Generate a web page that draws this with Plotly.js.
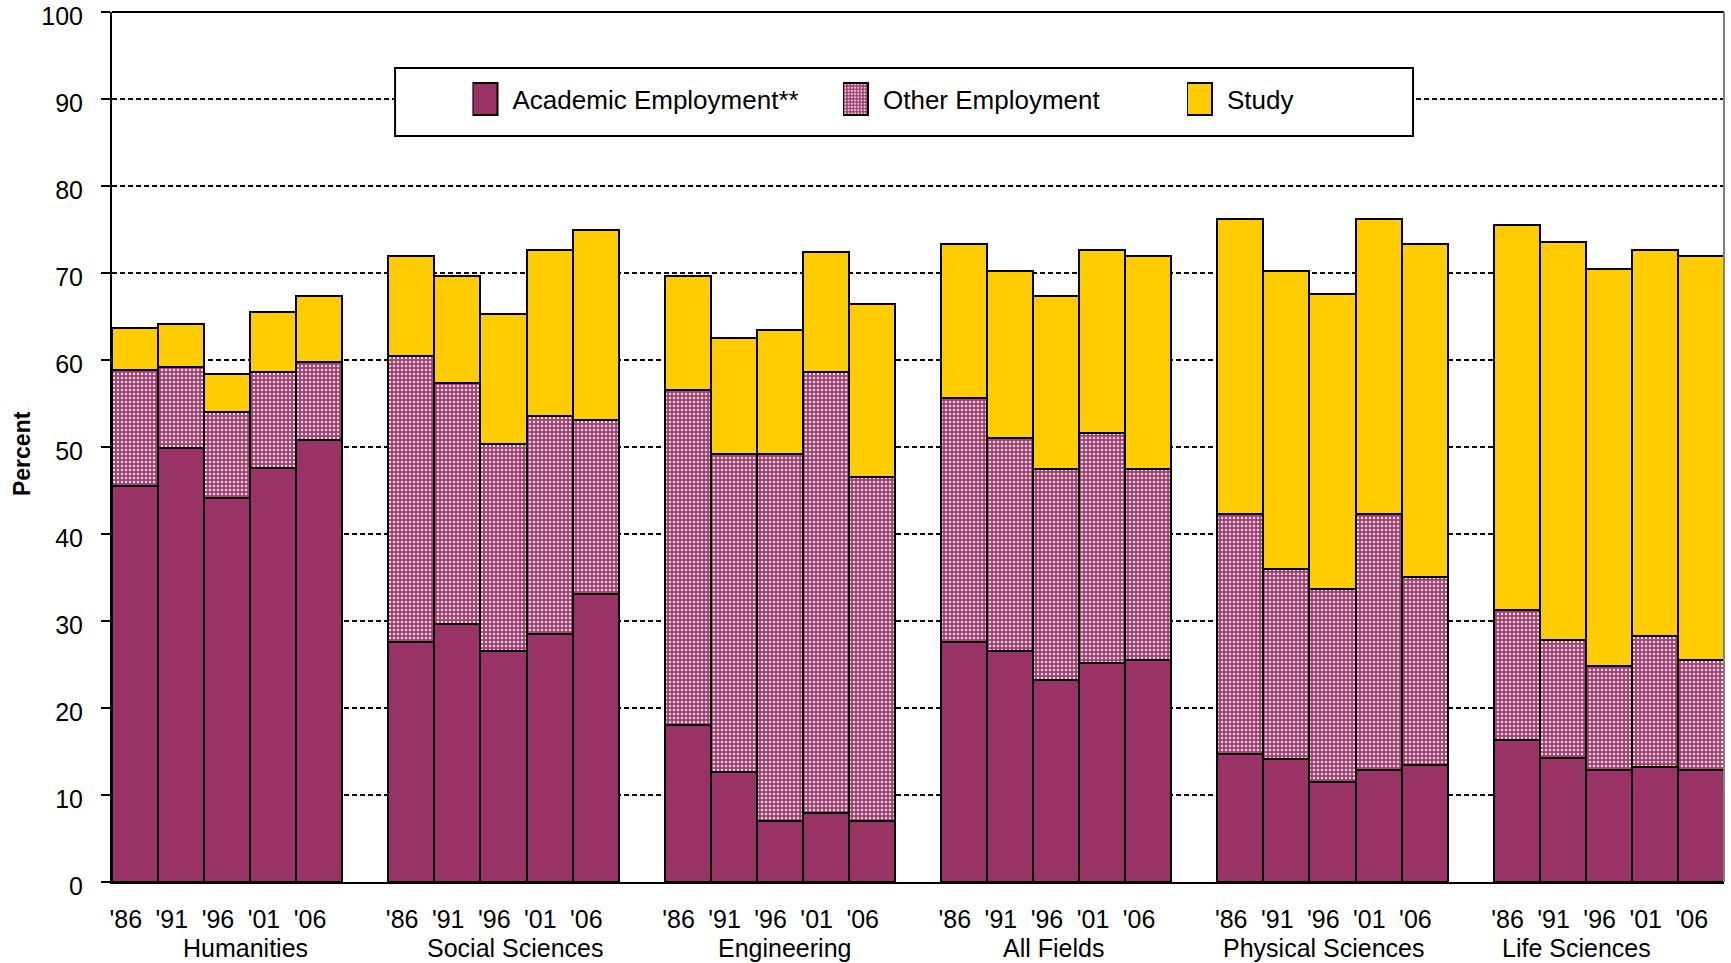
<!DOCTYPE html>
<html>
<head>
<meta charset="utf-8">
<script src="https://cdn.plot.ly/plotly-3.0.1.min.js"></script>
<style>
  html, body { margin: 0; padding: 0; background: #ffffff; }
  #chart { width: 1731px; height: 963px; }
</style>
</head>
<body>
<div id="chart"></div>
<script>
// Fields of study and survey years
const fields = ['Humanities', 'Social Sciences', 'Engineering', 'All Fields', 'Physical Sciences', 'Life Sciences'];
const years = ["'86", "'91", "'96", "'01", "'06"];

// Percent of graduates in each outcome, one row per field, one value per year
const academic = [
  45.5, 49.9, 44.1, 47.6, 50.8,
  27.6, 29.7, 26.6, 28.5, 33.1,
  18.1, 12.7, 7.0, 7.9, 7.0,
  27.6, 26.6, 23.2, 25.2, 25.5,
  14.7, 14.1, 11.5, 12.9, 13.4,
  16.3, 14.3, 12.9, 13.2, 12.9
];
const otherEmployment = [
  13.4, 9.3, 9.9, 11.0, 9.0,
  32.9, 27.7, 23.8, 25.1, 20.0,
  38.4, 36.5, 42.2, 50.7, 39.6,
  28.0, 24.4, 24.3, 26.4, 22.0,
  27.6, 21.9, 22.2, 29.4, 21.7,
  15.0, 13.5, 11.9, 15.1, 12.6
];
const study = [
  4.8, 4.9, 4.4, 6.9, 7.6,
  11.4, 12.3, 14.9, 19.0, 21.8,
  13.2, 13.3, 14.2, 13.8, 19.8,
  17.7, 19.2, 19.8, 21.1, 24.4,
  33.9, 34.2, 33.9, 33.9, 38.2,
  44.2, 45.8, 45.7, 44.3, 46.4
];

// Each field takes one slot per year plus one empty slot as a gap
const slotsPerField = years.length + 1;
const xPos = [];
const tickPos = [];
const tickText = [];
fields.forEach((f, g) => {
  years.forEach((y, j) => {
    const p = g * slotsPerField + j;
    xPos.push(p);
    tickPos.push(p - 0.2);
    tickText.push(y);
  });
});

// Small horizontal nudges for the field names under each group
const fieldLabelShift = [0.4, 0.25, 0.1, -0.05, -0.2, -0.7];

const FONT = 'Liberation Sans, Arial, sans-serif';
const edge = { color: '#000000', width: 2 };

const traces = [
  {
    type: 'bar', name: 'Academic Employment**', x: xPos, y: academic,
    marker: { color: '#993366', line: edge },
    legend: 'legend', hoverinfo: 'y'
  },
  {
    type: 'bar', name: 'Other Employment', x: xPos, y: otherEmployment,
    marker: {
      color: '#993366', line: edge,
      pattern: { shape: '.', bgcolor: '#a0406f', fgcolor: '#f3d6e4', fgopacity: 1, size: 4, solidity: 0.3 }
    },
    legend: 'legend2', hoverinfo: 'y'
  },
  {
    type: 'bar', name: 'Study', x: xPos, y: study,
    marker: { color: '#ffcc00', line: edge },
    legend: 'legend3', hoverinfo: 'y'
  }
];

const legendCommon = {
  orientation: 'h', xanchor: 'left', yanchor: 'middle', y: 0.9,
  bgcolor: 'rgba(0,0,0,0)', borderwidth: 0,
  font: { family: FONT, size: 26, color: '#000000' }
};

const annotations = fields.map((f, g) => ({
  text: f, xref: 'x', yref: 'paper',
  x: g * slotsPerField + (years.length - 1) / 2 + fieldLabelShift[g], y: 0,
  xanchor: 'center', yanchor: 'middle', yshift: -66, showarrow: false,
  font: { family: FONT, size: 25, color: '#000000' }
}));
annotations.push({
  text: '<b>Percent</b>', xref: 'paper', yref: 'paper',
  x: -0.0558, y: 0.492, xanchor: 'center', yanchor: 'middle',
  textangle: -90, showarrow: false,
  font: { family: FONT, size: 23, color: '#000000' }
});

const layout = {
  width: 1731, height: 963,
  margin: { l: 112, r: 7, t: 12, b: 81, pad: 0 },
  paper_bgcolor: '#ffffff', plot_bgcolor: '#ffffff',
  barmode: 'stack', bargap: 0,
  showlegend: true,
  font: { family: FONT, size: 25, color: '#000000' },
  xaxis: {
    range: [-0.5, fields.length * slotsPerField - 1.5],
    tickmode: 'array', tickvals: tickPos, ticktext: tickText,
    ticks: '', showgrid: false, zeroline: false,
    showline: true, linecolor: '#000000', linewidth: 2,
    ticklabelstandoff: 14,
    tickfont: { family: FONT, size: 25, color: '#000000' }
  },
  yaxis: {
    range: [0, 100], dtick: 10, tick0: 0,
    ticks: 'outside', ticklen: 9, tickwidth: 2, tickcolor: '#000000',
    ticklabelstandoff: 13, ticklabelshift: 4, ticklabeloverflow: 'allow',
    tickfont: { family: FONT, size: 25, color: '#000000' },
    showgrid: true, gridcolor: '#000000', gridwidth: 2, griddash: '5px,3px',
    zeroline: false, showline: true, linecolor: '#000000', linewidth: 2
  },
  legend: Object.assign({}, legendCommon, { x: (472.5 - 112) / 1612 }),
  legend2: Object.assign({}, legendCommon, { x: (843 - 112) / 1612 }),
  legend3: Object.assign({}, legendCommon, { x: (1187 - 112) / 1612 }),
  shapes: [
    // legend frame
    { type: 'rect', xref: 'paper', yref: 'paper', x0: 0.1756, x1: 0.8071, y0: 0.8575, y1: 0.9356,
      fillcolor: '#ffffff', line: { color: '#000000', width: 2 }, layer: 'above' },
    // plot frame: top and right edges
    { type: 'line', xref: 'paper', yref: 'paper', x0: 0, x1: 1, y0: 1, y1: 1,
      line: { color: '#000000', width: 2 }, layer: 'above' },
    { type: 'line', xref: 'paper', yref: 'paper', x0: 1, x1: 1, y0: 0, y1: 1,
      line: { color: '#808080', width: 2 }, layer: 'above' }
  ],
  annotations: annotations
};

Plotly.newPlot('chart', traces, layout, { displayModeBar: false, staticPlot: true }).then(gd => {
  // taller legend swatches, shifted left to leave room before the label
  gd.querySelectorAll('.legendpoints path').forEach(p => {
    p.setAttribute('d', 'M5,16H-20V-16H5Z');
  });
});
</script>
</body>
</html>
